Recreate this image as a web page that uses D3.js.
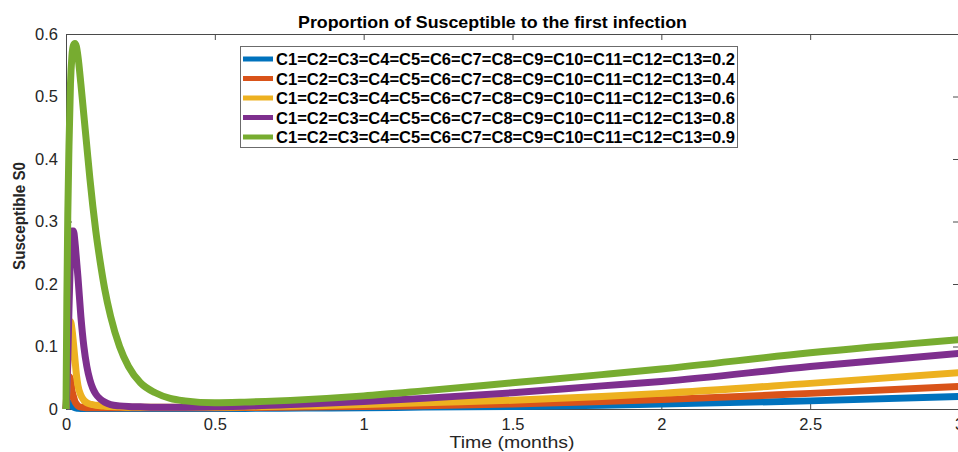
<!DOCTYPE html>
<html>
<head>
<meta charset="utf-8">
<script src="https://cdn.jsdelivr.net/npm/d3@7"></script>
<style>
  html, body { margin: 0; padding: 0; background: #fff; overflow: hidden; }
  svg { display: block; font-family: "Liberation Sans", Arial, sans-serif; }
</style>
</head>
<body>
<svg id="chart" width="958" height="452"></svg>
<script>
// Time grid (months) shared by all five solution curves
const time = [0, 0.003, 0.006, 0.01, 0.015, 0.02, 0.025, 0.03, 0.035, 0.04,
  0.05, 0.06, 0.07, 0.08, 0.09, 0.1, 0.115, 0.13, 0.15, 0.18,
  0.21, 0.25, 0.3, 0.35, 0.4, 0.5, 0.6, 0.8, 1.0, 1.2,
  1.5, 1.8, 2.0, 2.5, 3.0];

// Susceptible proportion S0 for each contact-rate setting
const s02 = [0, 0.006, 0.01, 0.011, 0.008, 0.005, 0.003, 0.002, 0.0015, 0.0012,
  0.001, 0.001, 0.001, 0.001, 0.001, 0.001, 0.001, 0.001, 0.001, 0.001,
  0.001, 0.001, 0.001, 0.001, 0.001, 0.001, 0.001, 0.0015, 0.002, 0.003,
  0.004, 0.006, 0.008, 0.013, 0.02];
const s04 = [0, 0.015, 0.035, 0.052, 0.048, 0.03, 0.02, 0.012, 0.008, 0.005,
  0.003, 0.0025, 0.002, 0.002, 0.002, 0.002, 0.002, 0.002, 0.002, 0.002,
  0.002, 0.002, 0.002, 0.002, 0.002, 0.002, 0.0022, 0.003, 0.004, 0.005,
  0.008, 0.012, 0.015, 0.025, 0.036];
const s06 = [0, 0.03, 0.07, 0.12, 0.14, 0.128, 0.105, 0.08, 0.055, 0.038,
  0.022, 0.014, 0.01, 0.008, 0.007, 0.006, 0.005, 0.0045, 0.004, 0.0035,
  0.003, 0.003, 0.003, 0.003, 0.003, 0.003, 0.0035, 0.005, 0.007, 0.01,
  0.014, 0.02, 0.025, 0.041, 0.058];
const s08 = [0, 0.03, 0.08, 0.16, 0.245, 0.285, 0.285, 0.268, 0.24, 0.212,
  0.148, 0.1, 0.068, 0.047, 0.033, 0.024, 0.016, 0.011, 0.007, 0.005,
  0.004, 0.0035, 0.003, 0.003, 0.003, 0.0035, 0.0045, 0.008, 0.012, 0.017,
  0.026, 0.037, 0.044, 0.068, 0.089];
const s09 = [0, 0.18, 0.31, 0.42, 0.52, 0.565, 0.582, 0.585, 0.58, 0.565,
  0.52, 0.47, 0.42, 0.37, 0.325, 0.285, 0.235, 0.192, 0.148, 0.1,
  0.068, 0.042, 0.026, 0.017, 0.013, 0.01, 0.011, 0.015, 0.021, 0.029,
  0.042, 0.055, 0.064, 0.09, 0.111];

const seriesNames = [
  "C1=C2=C3=C4=C5=C6=C7=C8=C9=C10=C11=C12=C13=0.2",
  "C1=C2=C3=C4=C5=C6=C7=C8=C9=C10=C11=C12=C13=0.4",
  "C1=C2=C3=C4=C5=C6=C7=C8=C9=C10=C11=C12=C13=0.6",
  "C1=C2=C3=C4=C5=C6=C7=C8=C9=C10=C11=C12=C13=0.8",
  "C1=C2=C3=C4=C5=C6=C7=C8=C9=C10=C11=C12=C13=0.9"
];
const seriesValues = [s02, s04, s06, s08, s09];
const seriesColors = ["#0072BD", "#D95319", "#EDB120", "#7E2F8E", "#77AC30"];

const xTicks = [0, 0.5, 1, 1.5, 2, 2.5, 3];
const yTicks = [0, 0.1, 0.2, 0.3, 0.4, 0.5, 0.6];

const titleText = "Proportion of Susceptible to the first infection";
const xLabel = "Time (months)";
const yLabel = "Susceptible S0";

// ---- layout ----
const svg = d3.select("#chart");
const plotL = 66, plotR = 959, plotT = 34, plotB = 409;
const axisColor = "#4a4a4a";

const x = d3.scaleLinear().domain([0, 3]).range([plotL, plotR]);
const y = d3.scaleLinear().domain([0, 0.6]).range([plotB, plotT]);

const fmt = d => d === 0 ? "0" : String(d);

// bottom axis (ticks point inward)
const gx = svg.append("g").attr("transform", `translate(0,${plotB})`)
  .call(d3.axisBottom(x).tickValues(xTicks).tickFormat(fmt)
    .tickSizeInner(-6).tickSizeOuter(0).tickPadding(9));
// top axis: ticks only
const gxt = svg.append("g").attr("transform", `translate(0,${plotT})`)
  .call(d3.axisTop(x).tickValues(xTicks).tickFormat("")
    .tickSizeInner(-6).tickSizeOuter(0));
// left axis
const gy = svg.append("g").attr("transform", `translate(${plotL},0)`)
  .call(d3.axisLeft(y).tickValues(yTicks).tickFormat(fmt)
    .tickSizeInner(-6).tickSizeOuter(0).tickPadding(8));
// right axis: ticks only
const gyr = svg.append("g").attr("transform", `translate(${plotR},0)`)
  .call(d3.axisRight(y).tickValues(yTicks).tickFormat("")
    .tickSizeInner(-6).tickSizeOuter(0));

[gx, gxt, gy, gyr].forEach(g => {
  g.selectAll(".domain").attr("stroke", axisColor).attr("stroke-width", 1);
  g.selectAll(".tick line").attr("stroke", axisColor).attr("stroke-width", 1);
  g.selectAll(".tick text")
    .attr("fill", "#262626")
    .style("font-size", "16.5px")
    .style("font-family", "'Liberation Sans', Arial, sans-serif");
});

// ---- curves ----
const line = d3.line()
  .x((d, i) => x(time[i]))
  .y(d => y(d))
  .curve(d3.curveMonotoneX);

svg.append("g").selectAll("path")
  .data(seriesValues)
  .join("path")
  .attr("d", d => line(d))
  .attr("fill", "none")
  .attr("stroke", (d, i) => seriesColors[i])
  .attr("stroke-width", 7)
  .attr("stroke-linejoin", "round")
  .attr("stroke-linecap", "butt");

// ---- title and axis labels ----
svg.append("text")
  .attr("x", 492.5).attr("y", 27.5)
  .attr("text-anchor", "middle")
  .attr("textLength", 389).attr("lengthAdjust", "spacingAndGlyphs")
  .style("font-size", "16.5px").style("font-weight", "bold")
  .attr("fill", "#000")
  .text(titleText);

svg.append("text")
  .attr("x", 512).attr("y", 448)
  .attr("text-anchor", "middle")
  .attr("textLength", 125).attr("lengthAdjust", "spacingAndGlyphs")
  .style("font-size", "16.5px")
  .attr("fill", "#262626")
  .text(xLabel);

svg.append("text")
  .attr("transform", "translate(25,216) rotate(-90)")
  .attr("text-anchor", "middle")
  .attr("textLength", 108).attr("lengthAdjust", "spacingAndGlyphs")
  .style("font-size", "17px").style("font-weight", "bold")
  .attr("fill", "#262626")
  .text(yLabel);

// ---- legend ----
const legend = svg.append("g");
legend.append("rect")
  .attr("x", 240.5).attr("y", 46.5)
  .attr("width", 497).attr("height", 101)
  .attr("fill", "#fff")
  .attr("stroke", "#6b6b6b").attr("stroke-width", 1);

const rowY = d3.scalePoint().domain(d3.range(seriesNames.length)).range([59, 137]);
const rows = legend.selectAll("g.row")
  .data(seriesNames)
  .join("g")
  .attr("class", "row")
  .attr("transform", (d, i) => `translate(0,${rowY(i)})`);
rows.append("line")
  .attr("x1", 243).attr("x2", 273)
  .attr("y1", 0).attr("y2", 0)
  .attr("stroke", (d, i) => seriesColors[i])
  .attr("stroke-width", 5);
rows.append("text")
  .attr("x", 276).attr("y", 0).attr("dy", "0.37em")
  .attr("textLength", 459).attr("lengthAdjust", "spacingAndGlyphs")
  .style("font-size", "17px").style("font-weight", "bold")
  .attr("fill", "#000")
  .text(d => d);
</script>
</body>
</html>
